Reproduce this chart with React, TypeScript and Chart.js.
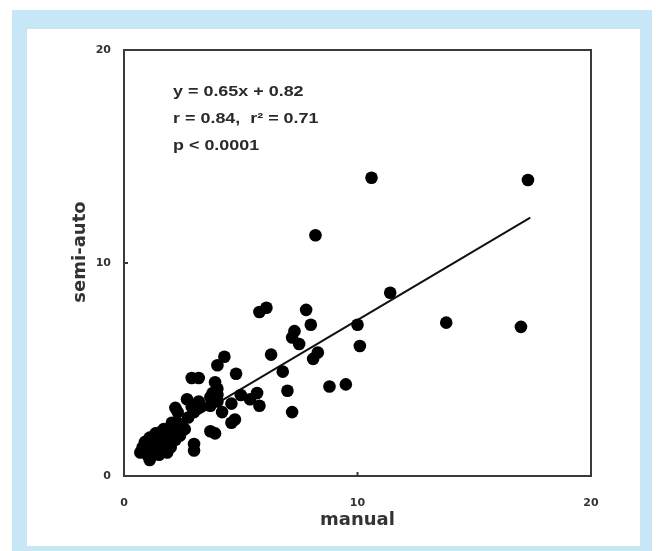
import React, { useEffect, useRef } from 'react';
import { Chart, registerables } from 'chart.js';

Chart.register(...registerables);

// manual (x) vs semi-auto (y) measurements
const manualValues = [
  10.6, 17.3, 8.2, 11.4, 13.8, 17.0, 10.0, 10.1, 5.8, 6.1,
  7.8, 8.0, 7.3, 7.2, 7.5, 8.3, 8.1, 6.3, 6.8, 7.0,
  7.2, 8.8, 9.5, 4.8, 4.3, 4.0, 3.9, 4.0, 3.8, 5.0,
  5.7, 5.8, 5.4, 4.6, 4.6, 4.75, 2.9, 3.2, 2.7, 2.2,
  3.2, 3.25, 3.7, 4.0, 3.0, 4.2, 3.7, 3.9, 3.0, 3.0,
  2.3, 2.3, 2.5, 2.6, 2.05, 1.85, 1.55, 1.35, 1.1, 0.9,
  0.7, 1.0, 1.1, 1.4, 1.65, 1.85, 2.0, 2.2, 2.4, 0.8,
  1.25, 1.55, 1.9, 2.05, 2.75, 2.9, 3.7, 4.0, 1.2, 1.5,
  2.1, 1.7,
];
const semiAutoValues = [
  14.0, 13.9, 11.3, 8.6, 7.2, 7.0, 7.1, 6.1, 7.7, 7.9,
  7.8, 7.1, 6.8, 6.5, 6.2, 5.8, 5.5, 5.7, 4.9, 4.0,
  3.0, 4.2, 4.3, 4.8, 5.6, 5.2, 4.4, 4.1, 3.9, 3.8,
  3.9, 3.3, 3.6, 3.4, 2.5, 2.65, 4.6, 4.6, 3.6, 3.2,
  3.5, 3.25, 3.3, 3.5, 3.0, 3.0, 2.1, 2.0, 1.5, 1.2,
  3.0, 2.5, 2.3, 2.2, 2.15, 1.9, 2.05, 2.0, 1.8, 1.6,
  1.1, 1.0, 0.75, 1.2, 1.55, 1.1, 1.35, 1.7, 1.9, 1.35,
  1.45, 1.8, 1.7, 2.5, 2.75, 3.25, 3.7, 3.8, 1.3, 1.0,
  1.9, 2.2,
];

// regression line end points
const fitX = [0.8, 17.4];
const fitY = [1.34, 12.13];

const xTickValues = [0, 10, 20];
const yTickValues = [0, 10, 20];
const xTitle = 'manual';
const yTitle = 'semi-auto';
const statLines = ['y = 0.65x + 0.82', 'r = 0.84,  r\u00B2 = 0.71', 'p < 0.0001'];
const statAnchor = [2.1, 18.0];

const W = 656;
const H = 551;
const TITLE_FONT = 'bold 18px "DejaVu Sans", Verdana, sans-serif';

const decorPlugin = {
  id: 'decor',
  beforeDraw(chart: any) {
    const ctx = chart.ctx;
    ctx.save();
    ctx.fillStyle = '#ffffff';
    ctx.fillRect(0, 0, W, H);
    ctx.fillStyle = '#c7e7f7';
    ctx.fillRect(12, 10, 640, 541);
    ctx.fillStyle = '#ffffff';
    ctx.fillRect(27, 29, 613, 517);
    ctx.restore();
  },
  afterDatasetsDraw(chart: any) {
    const ctx = chart.ctx;
    const a = chart.chartArea;
    const xs = chart.scales.x;
    const ys = chart.scales.y;
    ctx.save();
    ctx.strokeStyle = '#3a3a3a';
    ctx.lineWidth = 2;
    ctx.strokeRect(a.left, a.top, a.right - a.left, a.bottom - a.top);
    // inward tick marks
    ctx.beginPath();
    xTickValues.forEach((v) => {
      const px = xs.getPixelForValue(v);
      ctx.moveTo(px, a.bottom);
      ctx.lineTo(px, a.bottom - 4);
    });
    yTickValues.forEach((v) => {
      const py = ys.getPixelForValue(v);
      ctx.moveTo(a.left, py);
      ctx.lineTo(a.left + 4, py);
    });
    ctx.stroke();
    // statistics annotation
    const ax = xs.getPixelForValue(statAnchor[0]);
    const ay = ys.getPixelForValue(statAnchor[1]);
    ctx.fillStyle = '#2a2a2a';
    ctx.font = 'bold 14px "Liberation Sans", Arial, sans-serif';
    ctx.textBaseline = 'middle';
    ctx.textAlign = 'left';
    statLines.forEach((t, i) => {
      ctx.save();
      ctx.translate(ax, ay + i * 27);
      ctx.scale(1.28, 1);
      ctx.fillText(t, 0, 0);
      ctx.restore();
    });
    // y axis title
    ctx.save();
    ctx.translate(a.left - 44, (a.top + a.bottom) / 2 - 11);
    ctx.rotate(-Math.PI / 2);
    ctx.font = TITLE_FONT;
    ctx.fillStyle = '#333333';
    ctx.textAlign = 'center';
    ctx.textBaseline = 'middle';
    ctx.fillText(yTitle, 0, 0);
    ctx.restore();
    ctx.restore();
  },
};

export default function App() {
  const ref = useRef<HTMLCanvasElement | null>(null);

  useEffect(() => {
    if (!ref.current) return;
    const points = manualValues.map((x, i) => ({ x, y: semiAutoValues[i] }));
    const fit = fitX.map((x, i) => ({ x, y: fitY[i] }));
    const tickFont = { family: '"DejaVu Sans", Verdana, sans-serif', size: 11, weight: 'bold' as const };
    const titleFont = { family: '"DejaVu Sans", Verdana, sans-serif', size: 18, weight: 'bold' as const };
    const chart = new Chart(ref.current, {
      type: 'scatter',
      data: {
        datasets: [
          {
            type: 'scatter',
            label: 'points',
            data: points,
            backgroundColor: '#000000',
            borderWidth: 0,
            pointRadius: 6.3,
            pointHoverRadius: 6.3,
          },
          {
            type: 'line',
            label: 'fit',
            data: fit,
            borderColor: '#111111',
            borderWidth: 2,
            pointRadius: 0,
            fill: false,
            showLine: true,
          },
        ],
      },
      options: {
        animation: false,
        responsive: false,
        devicePixelRatio: 1,
        layout: { padding: { left: 0, top: 50, right: 65, bottom: 0 } },
        plugins: { legend: { display: false }, tooltip: { enabled: false } },
        scales: {
          x: {
            type: 'linear',
            min: 0,
            max: 20,
            afterFit: (s: any) => { s.height = 75; },
            afterBuildTicks: (s: any) => { s.ticks = xTickValues.map((v) => ({ value: v })); },
            grid: { display: false, drawTicks: false },
            border: { display: false },
            ticks: { font: tickFont, color: '#333333', padding: 21, maxRotation: 0 },
            title: { display: true, text: xTitle, font: titleFont, color: '#333333', padding: { top: 0, bottom: 20 } },
          },
          y: {
            type: 'linear',
            min: 0,
            max: 20,
            afterFit: (s: any) => { s.width = 124; },
            afterBuildTicks: (s: any) => { s.ticks = yTickValues.map((v) => ({ value: v })); },
            grid: { display: false, drawTicks: false },
            border: { display: false },
            ticks: { font: tickFont, color: '#333333', padding: 13 },
            title: { display: false },
          },
        },
      },
      plugins: [decorPlugin],
    });
    return () => chart.destroy();
  }, []);

  return (
    <div style={{ position: 'absolute', left: 0, top: 0, width: W, height: H }}>
      <canvas ref={ref} width={W} height={H} style={{ display: 'block', width: W, height: H }} />
    </div>
  );
}
